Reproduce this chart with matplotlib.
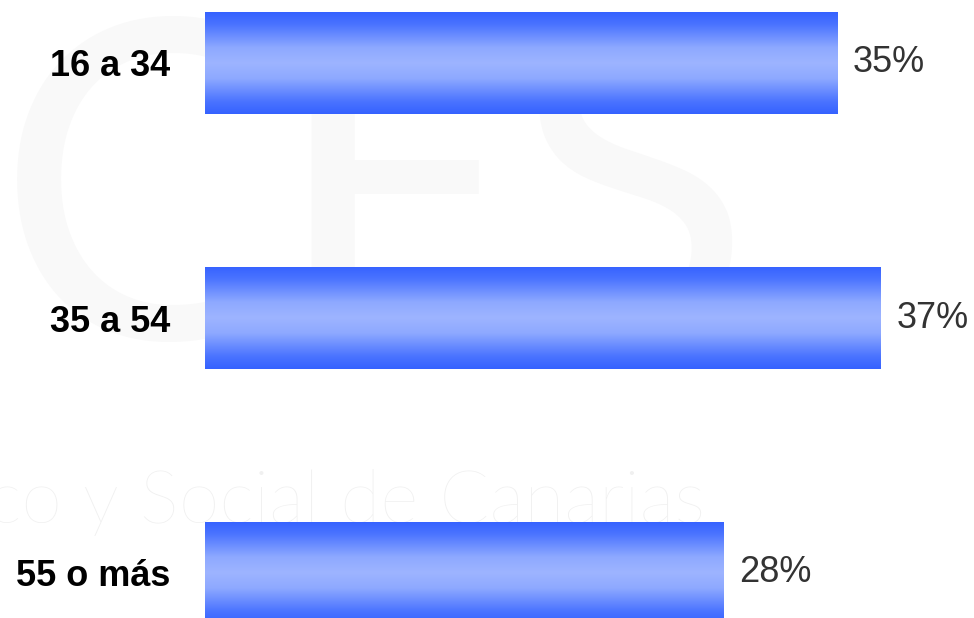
import numpy as np
import matplotlib
matplotlib.use("Agg")
import matplotlib.pyplot as plt
from matplotlib.colors import LinearSegmentedColormap

groups = ["16 a 34", "35 a 54", "55 o más"]
shares = [34.6, 37.0, 28.4]
share_labels = ["35%", "37%", "28%"]

W, H = 974, 618
fig = plt.figure(figsize=(W / 100, H / 100), dpi=100)
fig.patch.set_facecolor("white")

# faint CES watermark behind the bars
for letter, lx in [("C", -4), ("E", 270), ("S", 510)]:
    fig.text(lx / W, 1 - 338 / H, letter, fontsize=320, family="Lato", color="#f9f9f9",
             ha="left", va="baseline", zorder=-2)
fig.text(705 / W, 1 - 523 / H, "co y Social de Canarias", fontsize=53,
         family="Lato", fontweight="light", color="#f0f0f0", ha="right", va="baseline",
         zorder=-1)

px_per_unit = 18.27
xmax = 40
ax = fig.add_axes([205 / W, 0, xmax * px_per_unit / W, 1])
ax.patch.set_visible(False)

grad = LinearSegmentedColormap.from_list(
    "bar", [(0.0, "#3562ff"), (0.12, "#4a73ff"), (0.35, "#8ea9ff"), (0.5, "#9db4ff"),
            (0.65, "#8ea9ff"), (0.88, "#4a73ff"), (1.0, "#3562ff")])
col = np.linspace(0, 1, 256).reshape(-1, 1)

y = np.arange(len(groups))
bars = ax.barh(y, shares, height=0.4, color="none", edgecolor="none")
for b in bars:
    x0, y0 = b.get_x(), b.get_y()
    im = ax.imshow(col, cmap=grad, aspect="auto", origin="upper",
                   extent=[x0, x0 + b.get_width(), y0 + b.get_height(), y0], zorder=2)
    im.set_clip_path(b)

for yi, v, lab in zip(y, shares, share_labels):
    ax.annotate(lab, (v, yi), xytext=(11, 0), textcoords="offset points",
                ha="left", va="center", fontsize=26, color="#333333", family="Liberation Sans")

ax.set_xlim(0, xmax)
ax.set_ylim((H - 63) / 255, -63 / 255)
ax.set_yticks(y)
ax.set_yticklabels(groups, fontsize=26, fontweight="bold", family="Liberation Sans")
ax.tick_params(axis="y", length=0, pad=25)
ax.set_xticks([])
for s in ax.spines.values():
    s.set_visible(False)

fig.savefig("out.png", dpi=100)
